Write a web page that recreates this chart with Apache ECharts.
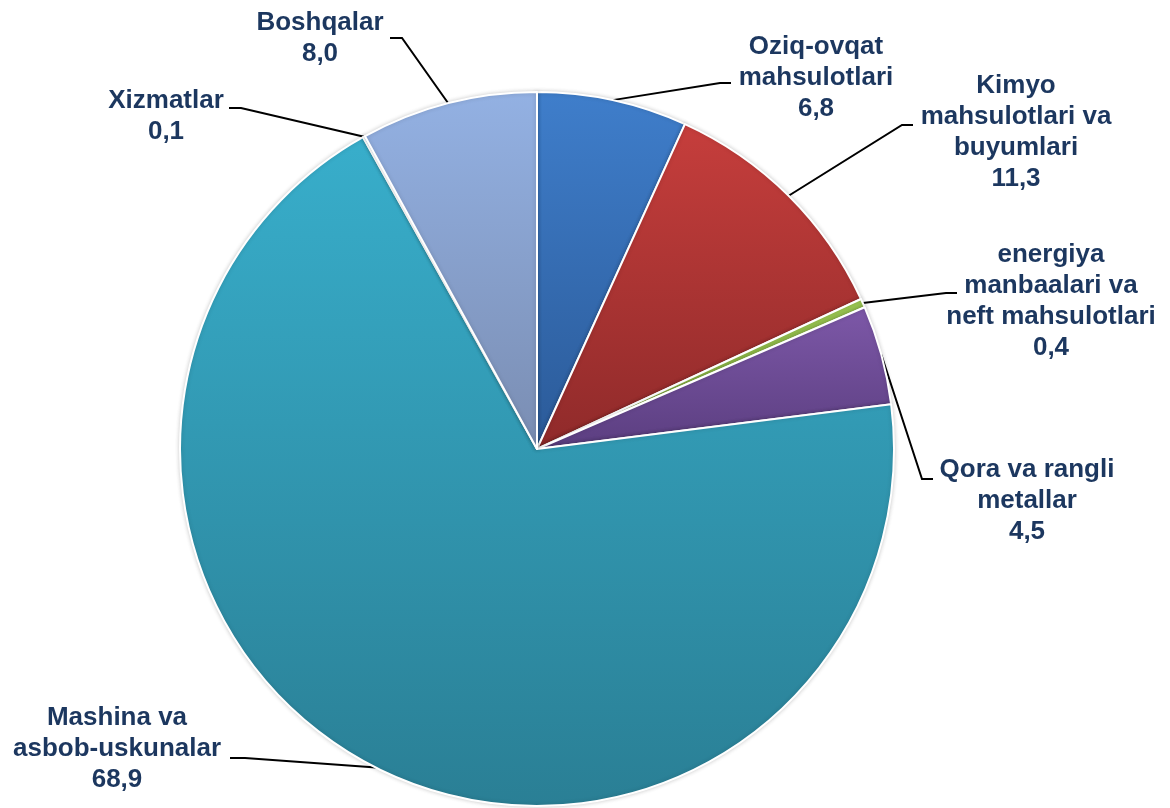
<!DOCTYPE html>
<html>
<head>
<meta charset="utf-8">
<script src="https://cdn.jsdelivr.net/npm/echarts@6/dist/echarts.min.js"></script>
<style>
html,body{margin:0;padding:0;background:#fff;}
#chart{width:1170px;height:808px;}
</style>
</head>
<body>
<div id="chart"></div>
<script>
// ---- data ----
const categories = [
  "Oziq-ovqat\nmahsulotlari",
  "Kimyo\nmahsulotlari va\nbuyumlari",
  "energiya\nmanbaalari va\nneft mahsulotlari",
  "Qora va rangli\nmetallar",
  "Mashina va\nasbob-uskunalar",
  "Xizmatlar",
  "Boshqalar"
];
const values = [6.8, 11.3, 0.4, 4.5, 68.9, 0.1, 8.0];

// ---- styling (separate from data) ----
const gradients = [
  ["#3f7ecb", "#2b5a98"],
  ["#c63e3c", "#8f2a2a"],
  ["#9bc653", "#86b43e"],
  ["#7d58a8", "#5b3e80"],
  ["#38aecb", "#2a7f95"],
  ["#38aecb", "#2e90aa"],
  ["#93b1e3", "#7a8db2"]
];
// label placement: [centerX, topY, lineMidX, lineEndX, lineY]
const labelPos = [
  [816, 31, 720, 731, 83],
  [1016, 70, 902, 913, 125],
  [1051, 239, 946, 957, 293],
  [1027, 454, 922, 933, 479],
  [117, 702, 245, 230, 758],
  [166, 85, 241, 229, 108],
  [320, 7, 402, 390, 38]
];

const chart = echarts.init(document.getElementById('chart'), null, {renderer: 'canvas'});
const data = categories.map((name, i) => ({
  name: name,
  value: values[i],
  itemStyle: {
    color: new echarts.graphic.LinearGradient(0, 0, 0, 1, [
      {offset: 0, color: gradients[i][0]},
      {offset: 1, color: gradients[i][1]}
    ])
  }
}));

chart.setOption({
  animation: false,
  backgroundColor: '#ffffff',
  series: [{
    type: 'pie',
    center: [537, 449],
    radius: [0, 357],
    startAngle: 90,
    clockwise: true,
    avoidLabelOverlap: false,
    data: data,
    itemStyle: {
      borderColor: '#ffffff',
      borderWidth: 2,
      shadowBlur: 4,
      shadowColor: 'rgba(0,0,0,0.18)'
    },
    label: {
      show: true,
      position: 'outside',
      formatter: p => p.name + '\n' + p.value.toFixed(1).replace('.', ','),
      fontFamily: 'Liberation Sans, Arial, sans-serif',
      fontWeight: 'bold',
      fontSize: 26,
      lineHeight: 31,
      color: '#1c375f',
      align: 'center'
    },
    labelLine: {
      show: true,
      lineStyle: {color: '#000000', width: 2}
    },
    emphasis: {disabled: true},
    labelLayout: function (params) {
      const i = params.dataIndex;
      const lp = labelPos[i];
      const start = params.labelLinePoints ? params.labelLinePoints[0] : [0, 0];
      return {
        x: lp[0],
        y: lp[1],
        align: 'center',
        verticalAlign: 'top',
        labelLinePoints: [start, [lp[2], lp[4]], [lp[3], lp[4]]]
      };
    }
  }]
});
</script>
</body>
</html>
